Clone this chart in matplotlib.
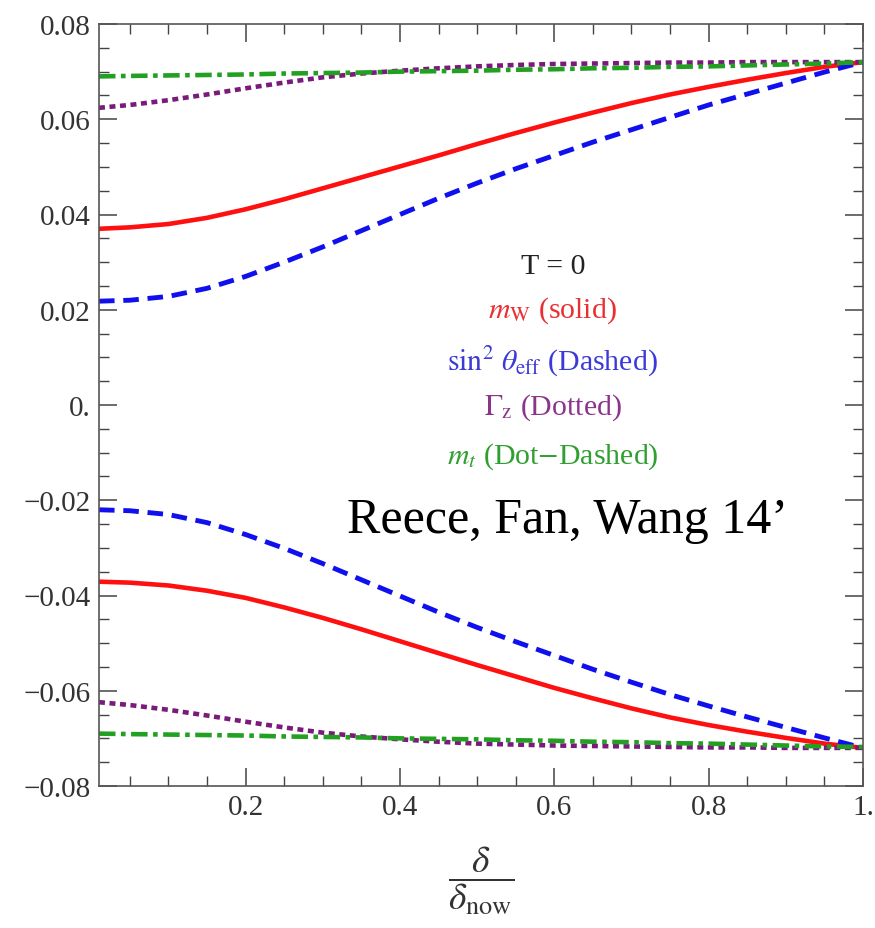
import matplotlib
matplotlib.use("Agg")
import matplotlib.pyplot as plt
from matplotlib.ticker import FixedLocator, FixedFormatter, MultipleLocator

plt.rcParams['font.family'] = ['Liberation Serif', 'DejaVu Serif']
plt.rcParams['mathtext.fontset'] = 'stix'

# ---- data ----
x = [0.01, 0.05, 0.10, 0.15, 0.20, 0.25, 0.30, 0.35, 0.40, 0.45, 0.50,
     0.55, 0.60, 0.65, 0.70, 0.75, 0.80, 0.85, 0.90, 0.95, 1.00]

mW_up = [0.0370, 0.0373, 0.0380, 0.0393, 0.0411, 0.0432, 0.0455, 0.0478, 0.0501, 0.0524, 0.0548,
         0.0571, 0.0593, 0.0614, 0.0634, 0.0652, 0.0668, 0.0683, 0.0697, 0.0710, 0.0720]
sin_up = [0.0218, 0.0220, 0.0228, 0.0245, 0.0270, 0.0300, 0.0332, 0.0366, 0.0400, 0.0434, 0.0466,
          0.0496, 0.0524, 0.0552, 0.0578, 0.0604, 0.0630, 0.0653, 0.0676, 0.0699, 0.0720]
gz_up = [0.0624, 0.0630, 0.0640, 0.0652, 0.0665, 0.0677, 0.0688, 0.0696, 0.0702, 0.0707, 0.0711,
         0.0714, 0.0716, 0.0717, 0.0718, 0.0719, 0.0719, 0.0720, 0.0720, 0.0720, 0.0720]
mt_up = [0.0690, 0.0691, 0.0692, 0.0693, 0.0694, 0.0696, 0.0697, 0.0698, 0.0700, 0.0701, 0.0702,
         0.0704, 0.0705, 0.0707, 0.0708, 0.0710, 0.0711, 0.0713, 0.0715, 0.0717, 0.0720]

mW_lo = [-0.0371, -0.0373, -0.0379, -0.0390, -0.0405, -0.0425, -0.0447, -0.0471, -0.0496, -0.0521, -0.0546,
         -0.0570, -0.0594, -0.0616, -0.0637, -0.0656, -0.0672, -0.0686, -0.0699, -0.0711, -0.0720]
sin_lo = [-0.0220, -0.0222, -0.0230, -0.0247, -0.0272, -0.0301, -0.0333, -0.0367, -0.0401, -0.0435, -0.0467,
          -0.0497, -0.0526, -0.0555, -0.0582, -0.0608, -0.0632, -0.0655, -0.0677, -0.0699, -0.0720]
gz_lo = [-0.0624, -0.0630, -0.0640, -0.0652, -0.0665, -0.0677, -0.0688, -0.0696, -0.0702, -0.0707, -0.0711,
         -0.0713, -0.0715, -0.0716, -0.0717, -0.0718, -0.0719, -0.0719, -0.0720, -0.0720, -0.0720]
mt_lo = [-0.0690, -0.0691, -0.0692, -0.0693, -0.0694, -0.0696, -0.0697, -0.0698, -0.0700, -0.0701, -0.0702,
         -0.0704, -0.0705, -0.0707, -0.0708, -0.0710, -0.0711, -0.0713, -0.0715, -0.0717, -0.0718]

xticks = [0.2, 0.4, 0.6, 0.8, 1.0]
xticklabels = ["0.2", "0.4", "0.6", "0.8", "1."]
yticks = [-0.08, -0.06, -0.04, -0.02, 0.0, 0.02, 0.04, 0.06, 0.08]
yticklabels = ["\u22120.08", "\u22120.06", "\u22120.04", "\u22120.02", "0.", "0.02", "0.04", "0.06", "0.08"]

legend_lines = ["T = 0",
                r"$m_{\rm W}$ (solid)",
                r"$\sin^2\,\theta_{\rm eff}$ (Dashed)",
                r"$\Gamma_{\rm z}$ (Dotted)",
                r"$m_t$ (Dot$-$Dashed)"]
credit = "Reece, Fan, Wang 14\u2019"

# ---- styles ----
c_red, c_blue, c_purple, c_green = '#ff1010', '#1010ee', '#7a1a7a', '#22a022'
text_colors = ['#222222', '#e83030', '#3a3ad8', '#8a358a', '#2f9f2f']

fig = plt.figure(figsize=(8.75, 9.29), dpi=100)
ax = fig.add_axes([99/875, 1-787/929, (863-99)/875, (787-25)/929])

lw = 3.3
for yy in (mW_up, mW_lo):
    ax.plot(x, yy, color=c_red, lw=lw, solid_capstyle='butt')
for yy in (sin_up, sin_lo):
    ax.plot(x, yy, color=c_blue, lw=lw+0.2, dashes=(3.2, 1.8))
for yy in (gz_up, gz_lo):
    ax.plot(x, yy, color=c_purple, lw=lw, dashes=(1.3, 1.0))
for yy in (mt_up, mt_lo):
    ax.plot(x, yy, color=c_green, lw=lw, dashes=(3.6, 1.2, 1.0, 1.2))

ax.set_xlim(0.01, 1.0)
ax.set_ylim(-0.08, 0.08)

ax.xaxis.set_major_locator(FixedLocator(xticks))
ax.xaxis.set_major_formatter(FixedFormatter(xticklabels))
ax.xaxis.set_minor_locator(MultipleLocator(0.05))
ax.yaxis.set_major_locator(FixedLocator(yticks))
ax.yaxis.set_major_formatter(FixedFormatter(yticklabels))
ax.yaxis.set_minor_locator(MultipleLocator(0.005))

tick_col = '#444444'
ax.tick_params(which='both', direction='in', top=True, right=True, color=tick_col,
               labelcolor='#333333', labelsize=21)
ax.tick_params(which='major', length=13, width=1.1, pad=6)
ax.tick_params(which='minor', length=7, width=1.0)
for s in ax.spines.values():
    s.set_color('#555555')
    s.set_linewidth(1.2)

# legend-like text block
ys = [0.0292, 0.0200, 0.0092, -0.0004, -0.0107]
for txt, yv, col in zip(legend_lines, ys, text_colors):
    ax.text(0.598, yv, txt, color=col, fontsize=21.5, ha='center', va='center')

ax.text(0.331, -0.0240, credit, fontsize=36, ha='left', va='center', color='black')

fig.text(481/875, 1-881/929, r"$\dfrac{\delta}{\delta_{\rm now}}$", fontsize=27,
         ha='center', va='center', color='#333333')

fig.savefig("out.png", dpi=100)
